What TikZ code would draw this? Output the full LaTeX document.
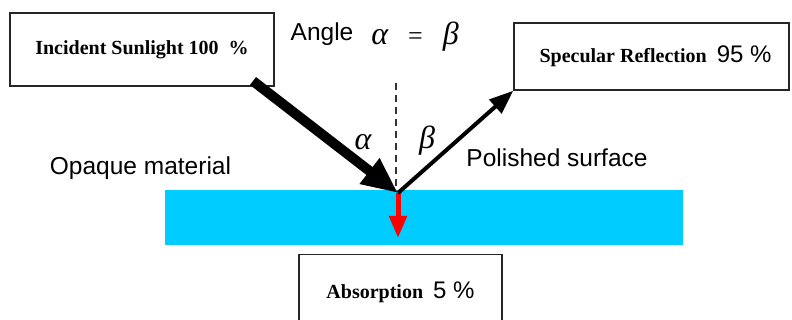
\documentclass[tikz,border=0pt]{standalone}
\usepackage{fontspec}
\setmainfont{Liberation Serif}
\setsansfont{Liberation Sans}
\usetikzlibrary{arrows.meta}
\definecolor{bandcyan}{HTML}{00CCFF}
\tikzset{
  box/.style={draw=black!85, line width=1.5pt, fill=white, inner sep=0pt},
  lbl/.style={font=\sffamily\fontsize{24.5}{27}\selectfont, inner sep=0pt},
  greek/.style={font=\itshape\fontsize{32}{34}\selectfont, inner sep=0pt}
}
\newcommand{\boxfont}{\fontsize{20}{22}\selectfont\bfseries}
\newcommand{\numfont}{\sffamily\mdseries\fontsize{24}{26}\selectfont}
\begin{document}
\begin{tikzpicture}[x=1pt,y=-1pt]
\useasboundingbox (0,0) rectangle (792,320);
\clip (0,0) rectangle (792,320);
% band
\node[fill=bandcyan, minimum width=518pt, minimum height=55pt, inner sep=0pt, anchor=north west] (band) at (165,190) {};
% boxes
\node[box, minimum width=264pt, minimum height=73pt] (inc) at (142,49.5)
  {\boxfont Incident Sunlight 100\ \ \%};
\node[box, minimum width=275pt, minimum height=67pt] (spec) at (651.5,56.5)
  {\hspace*{8pt}\boxfont Specular Reflection\ \ {\numfont 95 \%}};
\node[box, minimum width=203pt, minimum height=76pt, anchor=north] (abs) at (400.5,254)
  {\boxfont Absorption\ \ {\numfont 5 \%}};
% labels
\node[lbl] (angle) at (322,34) {Angle};
\node[greek] (eq) at (415,37) {α\hspace{20pt}{\upshape\fontsize{26}{28}\selectfont =}\hspace{20pt}β};
\node[greek] (alab) at (363,142) {α};
\node[greek] (blab) at (427,141) {β};
\node[lbl] (opaque) at (140.5,168) {Opaque material};
\node[lbl] (polished) at (557,158) {Polished surface};
% coordinates
\coordinate (hit) at (398,193);
\coordinate (incstart) at (253,81);
\coordinate (normtop) at (396,83);
\coordinate (normbot) at (396,192);
\coordinate (absend) at (398,238);
% normal
\draw[line width=1.8pt, dash pattern=on 7pt off 5pt, black!80] (normtop) -- (normbot);
% red absorption arrow
\draw[red, line width=5pt, -{Triangle[length=22pt,width=17pt]}] (hit) -- (absend);
% reflected
\draw[line width=4pt, -{Triangle[length=24pt,width=18pt]}] (hit) -- (spec.south west);
% incident
\draw[line width=10pt, -{Triangle[length=36pt,width=30pt]}] (incstart) -- (hit);
\end{tikzpicture}
\end{document}
